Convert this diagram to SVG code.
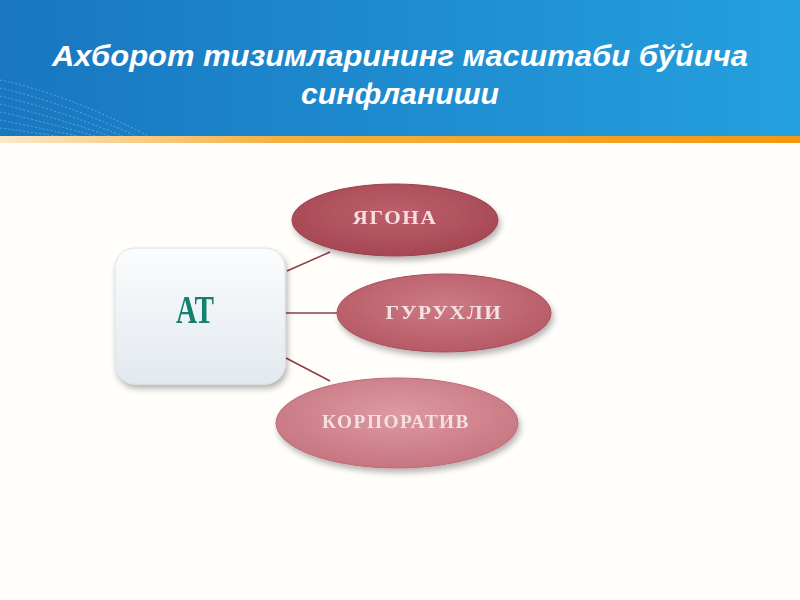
<svg xmlns="http://www.w3.org/2000/svg" width="800" height="600" viewBox="0 0 800 600">
<style>
.title{font-family:"Liberation Sans",Arial,sans-serif;font-size:30px;font-weight:bold;font-style:italic;fill:#ffffff;text-anchor:middle}
.lbl{font-family:"Liberation Serif","Times New Roman",serif;font-weight:bold;text-anchor:middle;fill:#f4dfe2;letter-spacing:1.5px;font-size:19px}
.conn{stroke:#8e3c44;stroke-width:1.5;fill:none}
</style>
<defs>
<linearGradient id="hdr" x1="0" y1="0" x2="1" y2="0">
<stop offset="0" stop-color="#1877c0"/>
<stop offset="1" stop-color="#25a0df"/>
</linearGradient>
<linearGradient id="orng" x1="0" y1="0" x2="1" y2="0">
<stop offset="0" stop-color="#fbe8c8"/>
<stop offset="0.35" stop-color="#f5b040"/>
<stop offset="1" stop-color="#f39810"/>
</linearGradient>
<linearGradient id="box" x1="0" y1="0" x2="0" y2="1">
<stop offset="0" stop-color="#fbfcfd"/>
<stop offset="1" stop-color="#e3e9ef"/>
</linearGradient>
<radialGradient id="e1" cx="0.5" cy="0.4" r="0.6">
<stop offset="0" stop-color="#bd606b"/>
<stop offset="1" stop-color="#a54853"/>
</radialGradient>
<radialGradient id="e2" cx="0.5" cy="0.4" r="0.6">
<stop offset="0" stop-color="#cd7a84"/>
<stop offset="1" stop-color="#b65a66"/>
</radialGradient>
<radialGradient id="e3" cx="0.5" cy="0.4" r="0.6">
<stop offset="0" stop-color="#dc9aa2"/>
<stop offset="1" stop-color="#c77580"/>
</radialGradient>
<filter id="sh" x="-20%" y="-20%" width="140%" height="150%">
<feGaussianBlur in="SourceAlpha" stdDeviation="3"/>
<feOffset dx="2" dy="4" result="b"/>
<feComponentTransfer><feFuncA type="linear" slope="0.3"/></feComponentTransfer>
<feMerge><feMergeNode/><feMergeNode in="SourceGraphic"/></feMerge>
</filter>
</defs>
<rect width="800" height="600" fill="#fffefb"/>
<g id="header">
<rect x="0" y="0" width="800" height="138" fill="url(#hdr)"/>
<g stroke="#9fd4f4" stroke-width="1" opacity="0.5" fill="none" stroke-dasharray="2 2">
<path d="M0 80 Q70 95 150 137"/>
<path d="M0 88 Q65 103 138 137"/>
<path d="M0 96 Q60 110 125 137"/>
<path d="M0 104 Q55 117 112 137"/>
<path d="M0 112 Q50 123 98 137"/>
<path d="M0 120 Q40 128 82 137"/>
<path d="M0 128 Q30 132 62 137"/>
</g>
<rect x="0" y="136" width="800" height="7" fill="url(#orng)"/>
<text class="title" x="400" y="66" textLength="696" lengthAdjust="spacingAndGlyphs">Ахборот тизимларининг масштаби бўйича</text>
<text class="title" x="400" y="104" textLength="198" lengthAdjust="spacingAndGlyphs">синфланиши</text>
</g>
<g id="connectors">
<line class="conn" x1="287" y1="271" x2="330" y2="252"/>
<line class="conn" x1="286" y1="313" x2="338" y2="313"/>
<line class="conn" x1="286" y1="358" x2="330" y2="381"/>
</g>
<g id="node-at" filter="url(#sh)">
<rect x="115" y="248" width="170" height="136" rx="20" fill="url(#box)" stroke="#dde2e8" stroke-width="1"/>
<text x="195" y="323" font-family="'Liberation Serif','Times New Roman',serif" font-size="40" font-weight="bold" fill="#14806e" text-anchor="middle" textLength="38" lengthAdjust="spacingAndGlyphs">АТ</text>
</g>
<g id="node-yagona" filter="url(#sh)">
<ellipse cx="395" cy="220" rx="103" ry="36" fill="url(#e1)" stroke="#9a404b" stroke-width="1"/>
<text class="lbl" x="395" y="224" textLength="85" lengthAdjust="spacingAndGlyphs">ЯГОНА</text>
</g>
<g id="node-guruhli" filter="url(#sh)">
<ellipse cx="444" cy="313" rx="107" ry="39" fill="url(#e2)" stroke="#a84e5a" stroke-width="1"/>
<text class="lbl" x="444" y="319" textLength="117" lengthAdjust="spacingAndGlyphs">ГУРУХЛИ</text>
</g>
<g id="node-korporativ" filter="url(#sh)">
<ellipse cx="397" cy="423" rx="121" ry="45" fill="url(#e3)" stroke="#bb6b76" stroke-width="1"/>
<text class="lbl" x="396" y="428" textLength="148" lengthAdjust="spacingAndGlyphs">КОРПОРАТИВ</text>
</g>
</svg>
